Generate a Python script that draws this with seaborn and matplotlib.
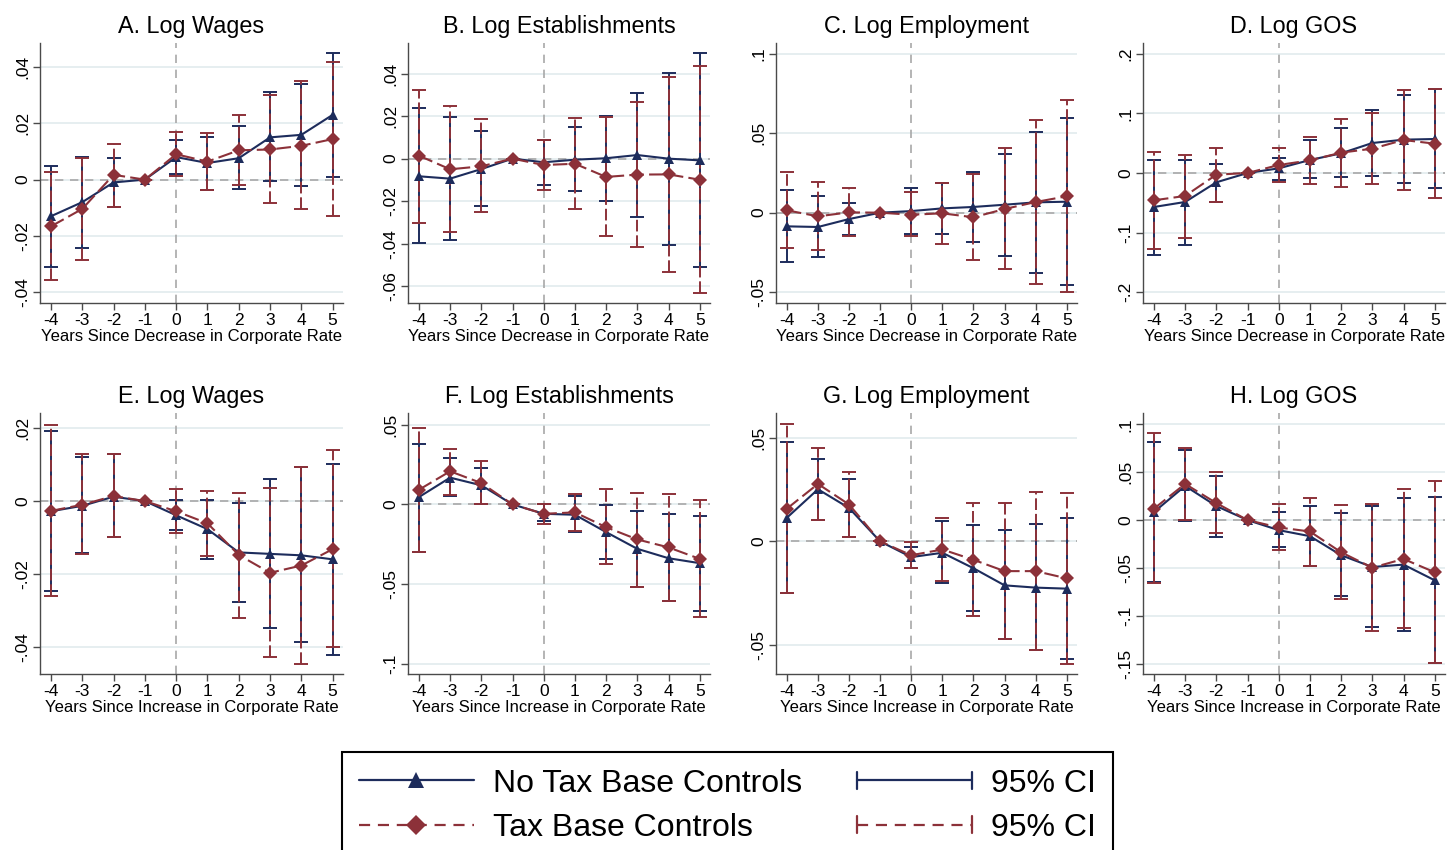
import numpy as np
import pandas as pd
import matplotlib
matplotlib.use("Agg")
import matplotlib.pyplot as plt
import seaborn as sns
from matplotlib.lines import Line2D
from matplotlib.legend_handler import HandlerBase

years = [-4, -3, -2, -1, 0, 1, 2, 3, 4, 5]

# A. log wages, decrease
a_nb = [-0.013, -0.008, -0.001, 0, 0.008, 0.0059, 0.0076, 0.015, 0.0159, 0.023]
a_nb_lo = [-0.031, -0.0244, -0.0097, 0, 0.002, -0.0036, -0.0035, -0.0006, -0.0024, 0.001]
a_nb_hi = [0.0047, 0.0079, 0.0076, 0, 0.014, 0.015, 0.019, 0.031, 0.034, 0.045]
a_tb = [-0.0166, -0.0104, 0.0017, 0, 0.009, 0.0064, 0.0104, 0.0107, 0.012, 0.0144]
a_tb_lo = [-0.0357, -0.0286, -0.0097, 0, 0.0012, -0.0038, -0.002, -0.0083, -0.0104, -0.013]
a_tb_hi = [0.0028, 0.0077, 0.0127, 0, 0.017, 0.0166, 0.0228, 0.030, 0.035, 0.0418]

# B. log establishments, decrease
b_nb = [-0.0083, -0.0094, -0.0049, 0, -0.0017, -0.0005, 0.0002, 0.0017, 0.0, -0.0008]
b_nb_lo = [-0.0398, -0.0381, -0.0224, 0, -0.0125, -0.0154, -0.0199, -0.0275, -0.0405, -0.051]
b_nb_hi = [0.0237, 0.0195, 0.0129, 0, 0.0089, 0.0149, 0.0202, 0.0307, 0.0405, 0.0496]
b_tb = [0.0014, -0.005, -0.0036, 0, -0.003, -0.0024, -0.0086, -0.0075, -0.0074, -0.0099]
b_tb_lo = [-0.0303, -0.0347, -0.025, 0, -0.0149, -0.0235, -0.0365, -0.0416, -0.0532, -0.0632]
b_tb_hi = [0.0325, 0.0249, 0.0187, 0, 0.0089, 0.019, 0.0195, 0.0265, 0.0386, 0.0435]

# C. log employment, decrease
c_nb = [-0.0086, -0.009, -0.004, 0, 0.001, 0.0027, 0.0036, 0.005, 0.0065, 0.0069]
c_nb_lo = [-0.0308, -0.0279, -0.014, 0, -0.0132, -0.0132, -0.0185, -0.027, -0.038, -0.0457]
c_nb_hi = [0.014, 0.0103, 0.0061, 0, 0.0153, 0.0189, 0.0254, 0.0369, 0.0505, 0.0595]
c_tb = [0.0015, -0.0023, 0.0002, 0, -0.0013, -0.0004, -0.0029, 0.0023, 0.0067, 0.0103]
c_tb_lo = [-0.0224, -0.0233, -0.0145, 0, -0.0149, -0.0195, -0.0296, -0.0356, -0.0447, -0.0501]
c_tb_hi = [0.0256, 0.019, 0.0153, 0, 0.013, 0.0189, 0.0243, 0.0405, 0.058, 0.071]

# D. log GOS, decrease
d_nb = [-0.057, -0.0486, -0.0156, 0, 0.0078, 0.0218, 0.033, 0.0503, 0.0559, 0.057]
d_nb_lo = [-0.138, -0.1207, -0.048, 0, -0.0112, -0.0089, -0.0073, -0.0045, -0.0173, -0.0251]
d_nb_hi = [0.0223, 0.0212, 0.0156, 0, 0.0257, 0.0547, 0.0754, 0.1056, 0.1313, 0.1408]
d_tb = [-0.0458, -0.0385, -0.0028, 0, 0.0134, 0.0212, 0.0341, 0.0408, 0.0553, 0.0492]
d_tb_lo = [-0.1274, -0.1084, -0.0486, 0, -0.0151, -0.0184, -0.0235, -0.019, -0.029, -0.0425]
d_tb_hi = [0.0358, 0.0296, 0.0413, 0, 0.0425, 0.0598, 0.0911, 0.1, 0.1385, 0.1413]

# E. log wages, increase
e_nb = [-0.0028, -0.0013, 0.0012, 0, -0.0039, -0.0077, -0.0141, -0.0145, -0.0149, -0.016]
e_nb_lo = [-0.0247, -0.0143, -0.01, 0, -0.0079, -0.0159, -0.0276, -0.0348, -0.0386, -0.0422]
e_nb_hi = [0.0192, 0.012, 0.0128, 0, 0.0004, 0.0002, -0.0004, 0.006, 0.0094, 0.0101]
e_tb = [-0.0027, -0.001, 0.0014, 0, -0.0028, -0.0061, -0.0148, -0.0197, -0.0177, -0.0132]
e_tb_lo = [-0.0262, -0.0145, -0.01, 0, -0.0089, -0.015, -0.032, -0.0429, -0.0448, -0.0402]
e_tb_hi = [0.021, 0.013, 0.0129, 0, 0.0034, 0.0029, 0.0021, 0.0037, 0.0093, 0.014]

# F. log establishments, increase
f_nb = [0.0046, 0.0168, 0.012, 0, -0.0059, -0.0065, -0.0174, -0.0279, -0.0338, -0.0369]
f_nb_lo = [-0.0296, 0.0055, 0.0004, 0, -0.0107, -0.0174, -0.0344, -0.0516, -0.0604, -0.0667]
f_nb_hi = [0.0377, 0.0289, 0.0229, 0, 0.0, 0.005, -0.0004, -0.0042, -0.0061, -0.0075]
f_tb = [0.0092, 0.0208, 0.0134, 0, -0.0059, -0.005, -0.0143, -0.022, -0.027, -0.0342]
f_tb_lo = [-0.0296, 0.0059, 0.0, 0, -0.0124, -0.0164, -0.0375, -0.0516, -0.0604, -0.0709]
f_tb_hi = [0.0478, 0.035, 0.027, 0, 0.0002, 0.0067, 0.0094, 0.0071, 0.0063, 0.0029]

# G. log employment, increase
g_nb = [0.0115, 0.0253, 0.0162, 0, -0.0076, -0.0055, -0.013, -0.0213, -0.0224, -0.0229]
g_nb_lo = [-0.0252, 0.0104, 0.0021, 0, -0.0128, -0.0201, -0.0338, -0.0474, -0.0529, -0.0568]
g_nb_hi = [0.0484, 0.0399, 0.0302, 0, -0.0026, 0.0099, 0.008, 0.0055, 0.0086, 0.0112]
g_tb = [0.0159, 0.0279, 0.0179, 0, -0.0067, -0.0039, -0.0089, -0.0144, -0.0144, -0.0179]
g_tb_lo = [-0.0252, 0.0104, 0.0021, 0, -0.0131, -0.019, -0.0364, -0.0474, -0.0529, -0.0594]
g_tb_hi = [0.057, 0.0453, 0.0339, 0, -0.0003, 0.0114, 0.0187, 0.0187, 0.0239, 0.0237]

# H. log GOS, increase
h_nb = [0.0084, 0.0357, 0.0147, 0, -0.0105, -0.0168, -0.0367, -0.049, -0.0465, -0.0629]
h_nb_lo = [-0.065, -0.001, -0.0175, 0, -0.0283, -0.0476, -0.0797, -0.1112, -0.1154, -0.1497]
h_nb_hi = [0.0818, 0.0731, 0.0462, 0, 0.0084, 0.0143, 0.007, 0.0143, 0.0234, 0.0238]
h_tb = [0.0119, 0.0378, 0.0178, 0, -0.0077, -0.0119, -0.0336, -0.0497, -0.0406, -0.0545]
h_tb_lo = [-0.0657, -0.0003, -0.014, 0, -0.0308, -0.0476, -0.0825, -0.1157, -0.1129, -0.1497]
h_tb_hi = [0.0906, 0.0752, 0.0503, 0, 0.0164, 0.0231, 0.0157, 0.0168, 0.0329, 0.0406]

titles = ["A. Log Wages", "B. Log Establishments", "C. Log Employment", "D. Log GOS",
          "E. Log Wages", "F. Log Establishments", "G. Log Employment", "H. Log GOS"]
xlabel_dec = "Years Since Decrease in Corporate Rate"
xlabel_inc = "Years Since Increase in Corporate Rate"
yticks = [[-0.04, -0.02, 0, 0.02, 0.04],
          [-0.06, -0.04, -0.02, 0, 0.02, 0.04],
          [-0.05, 0, 0.05, 0.1],
          [-0.2, -0.1, 0, 0.1, 0.2],
          [-0.04, -0.02, 0, 0.02],
          [-0.1, -0.05, 0, 0.05],
          [-0.05, 0, 0.05],
          [-0.15, -0.1, -0.05, 0, 0.05, 0.1]]
ylims = [(-0.0438, 0.0485), (-0.0679, 0.0544), (-0.0568, 0.1067), (-0.218, 0.218),
         (-0.0475, 0.0242), (-0.1065, 0.0574), (-0.0643, 0.0623), (-0.1608, 0.1119)]

series = [(a_nb, a_nb_lo, a_nb_hi, a_tb, a_tb_lo, a_tb_hi),
          (b_nb, b_nb_lo, b_nb_hi, b_tb, b_tb_lo, b_tb_hi),
          (c_nb, c_nb_lo, c_nb_hi, c_tb, c_tb_lo, c_tb_hi),
          (d_nb, d_nb_lo, d_nb_hi, d_tb, d_tb_lo, d_tb_hi),
          (e_nb, e_nb_lo, e_nb_hi, e_tb, e_tb_lo, e_tb_hi),
          (f_nb, f_nb_lo, f_nb_hi, f_tb, f_tb_lo, f_tb_hi),
          (g_nb, g_nb_lo, g_nb_hi, g_tb, g_tb_lo, g_tb_hi),
          (h_nb, h_nb_lo, h_nb_hi, h_tb, h_tb_lo, h_tb_hi)]

NB = "No Tax Base Controls"
TB = "Tax Base Controls"
NAVY = "#1d2c5c"
RED = "#8c3139"
GRID = "#e6eef0"
SPINE = "#4a4a4a"

sns.set_style("white")
plt.rcParams['font.family'] = ['Liberation Sans', 'DejaVu Sans']
plt.rcParams['text.color'] = 'black'
plt.rcParams['xtick.labelcolor'] = 'black'
plt.rcParams['ytick.labelcolor'] = 'black'
plt.rcParams['axes.labelcolor'] = 'black'


def fmt(v):
    if v == 0:
        return "0"
    s = f"{v:g}"
    return s.replace("0.", ".")


class CapLine(HandlerBase):
    # horizontal line with a cap at both ends, like the Stata CI key
    def create_artists(self, legend, orig_handle, xdescent, ydescent,
                       width, height, fontsize, trans):
        y = height / 2 - ydescent
        x0, x1 = -xdescent, -xdescent + width
        line = Line2D([x0, x1], [y, y])
        line.update_from(orig_handle)
        h = height * 0.38
        arts = [line]
        for x in (x0, x1):
            arts.append(Line2D([x, x], [y - h, y + h], color=orig_handle.get_color(),
                               lw=orig_handle.get_linewidth()))
        for a in arts:
            a.set_transform(trans)
        return arts


fig = plt.figure(figsize=(14.48, 8.5), dpi=100)
W, H = 1448, 850
lefts = [40, 408, 776, 1143]
widths = [303, 302, 301, 302]
rows = [(43, 303), (413, 674)]

for i in range(8):
    r, c = divmod(i, 4)
    top, bot = rows[r]
    ax = fig.add_axes([lefts[c] / W, 1 - bot / H, widths[c] / W, (bot - top) / H])
    nb, nb_lo, nb_hi, tb, tb_lo, tb_hi = series[i]

    df = pd.DataFrame({
        "year": years * 2,
        "coef": nb + tb,
        "spec": [NB] * len(years) + [TB] * len(years),
    })

    ax.set_ylim(*ylims[i])
    ax.set_xlim(-4.35, 5.33)
    for t in yticks[i]:
        ax.axhline(t, color=GRID, lw=1.4, zorder=0)
    ax.axhline(0, color="#a8a8a8", lw=1.2, dashes=(5, 4), zorder=1)
    ax.axvline(0, color="#a8a8a8", lw=1.2, dashes=(5, 4), zorder=1)

    for coef, lo, hi, col, dashed in [(nb, nb_lo, nb_hi, NAVY, False),
                                      (tb, tb_lo, tb_hi, RED, True)]:
        coef = np.array(coef)
        err = [coef - np.array(lo), np.array(hi) - coef]
        eb = ax.errorbar(years, coef, yerr=err, fmt="none", ecolor=col,
                         elinewidth=1.4, capsize=5, capthick=1.4, zorder=2)
        if dashed:
            eb[2][0].set_linestyle((0, (6, 2)))

    sns.lineplot(data=df, x="year", y="coef", hue="spec", style="spec",
                 palette={NB: NAVY, TB: RED},
                 markers={NB: "^", TB: "D"},
                 dashes={NB: "", TB: (7, 2.5)},
                 markersize=7, markeredgewidth=0, lw=1.5,
                 legend=False, ax=ax, zorder=3)

    ax.set_xticks(years)
    ax.set_xticklabels([str(y) for y in years], fontsize=12.5)
    ax.set_yticks(yticks[i])
    ax.set_yticklabels([fmt(v) for v in yticks[i]], rotation=90, va="center", fontsize=12.5)
    ax.set_title(titles[i], fontsize=16.8, pad=7)
    ax.set_xlabel(xlabel_dec if r == 0 else xlabel_inc, fontsize=12, labelpad=1)
    ax.set_ylabel("")
    sns.despine(ax=ax)
    for s in ("left", "bottom"):
        ax.spines[s].set_color(SPINE)
        ax.spines[s].set_linewidth(1.0)
    ax.tick_params(axis="both", direction="out", length=5, width=1, color=SPINE,
                   pad=2, left=True, bottom=True)

handles = [
    Line2D([], [], color=NAVY, lw=1.6, marker="^", markersize=12, markeredgewidth=0),
    Line2D([], [], color=RED, lw=1.6, dashes=(5, 3.5), marker="D", markersize=10, markeredgewidth=0),
    Line2D([], [], color=NAVY, lw=1.6),
    Line2D([], [], color=RED, lw=1.6, dashes=(5, 3.5)),
]
labels = [NB, TB, "95% CI", "95% CI"]
leg = fig.legend(handles, labels, ncol=2, loc="upper left",
                 bbox_to_anchor=(342 / W, 1 - 752 / H), borderaxespad=0,
                 fontsize=23, frameon=True, fancybox=False, framealpha=1,
                 edgecolor="black", handlelength=3.6, handletextpad=0.6,
                 columnspacing=1.72, borderpad=0.52, labelspacing=0.45,
                 handler_map={handles[2]: CapLine(), handles[3]: CapLine()})
leg.get_frame().set_linewidth(1.5)

fig.savefig("out.png", dpi=100)
